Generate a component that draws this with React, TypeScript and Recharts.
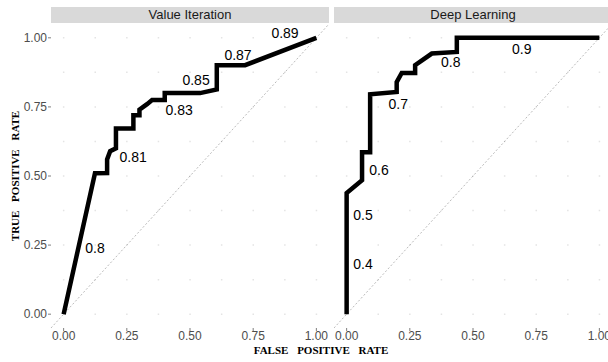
import {
  ComposedChart,
  Line,
  Scatter,
  XAxis,
  YAxis,
  CartesianGrid,
  ReferenceLine,
} from "recharts";

// ROC curve, value iteration
const viFpr = [0, 0.124, 0.172, 0.172, 0.184, 0.207, 0.207, 0.276, 0.276, 0.3, 0.3, 0.33, 0.35, 0.4, 0.4, 0.54, 0.606, 0.606, 0.718, 1];
const viTpr = [0, 0.51, 0.511, 0.56, 0.59, 0.6, 0.672, 0.672, 0.72, 0.72, 0.74, 0.76, 0.775, 0.775, 0.8, 0.8, 0.813, 0.901, 0.901, 1];

// ROC curve, deep learning
const dlFpr = [0, 0, 0.061, 0.061, 0.093, 0.093, 0.198, 0.198, 0.218, 0.271, 0.271, 0.337, 0.436, 0.436, 1];
const dlTpr = [0, 0.438, 0.485, 0.586, 0.586, 0.796, 0.804, 0.84, 0.873, 0.873, 0.901, 0.943, 0.949, 1, 1];

// threshold labels
const viLabels = ["0.8", "0.81", "0.83", "0.85", "0.87", "0.89"];
const viLabelFpr = [0.124, 0.275, 0.457, 0.524, 0.69, 0.876];
const viLabelTpr = [0.239, 0.568, 0.738, 0.847, 0.937, 1.017];

const dlLabels = ["0.4", "0.5", "0.6", "0.7", "0.8", "0.9"];
const dlLabelFpr = [0.065, 0.065, 0.128, 0.204, 0.412, 0.693];
const dlLabelTpr = [0.183, 0.359, 0.521, 0.762, 0.913, 0.961];

const ticks = [0, 0.25, 0.5, 0.75, 1];
const gridVals = [0, 0.125, 0.25, 0.375, 0.5, 0.625, 0.75, 0.875, 1];

const sans = "'Liberation Sans', Arial, Helvetica, sans-serif";

const toPts = (xs: number[], ys: number[]) => xs.map((x, i) => ({ fpr: x, tpr: ys[i] }));
const toLabels = (txt: string[], xs: number[], ys: number[]) =>
  txt.map((t, i) => ({ fpr: xs[i], tpr: ys[i], label: t }));

const LabelShape = (p: any) => (
  <text
    x={p.cx}
    y={p.cy}
    textAnchor="middle"
    dominantBaseline="central"
    fontSize={14}
    fontFamily={sans}
    fill="#000"
  >
    {p.payload.label}
  </text>
);

function Panel({
  pts,
  labels,
  showY,
  width,
}: {
  pts: { fpr: number; tpr: number }[];
  labels: { fpr: number; tpr: number; label: string }[];
  showY: boolean;
  width: number;
}) {
  const tickStyle = { fontSize: 12, fill: "#4d4d4d", fontFamily: sans };
  return (
    <ComposedChart
      width={width}
      height={362}
      margin={{ top: 24, right: 0, bottom: 14, left: 0 }}
    >
      <CartesianGrid
        horizontalValues={gridVals}
        vertical={false}
        stroke="#e4e4e4"
        strokeWidth={1.5}
        strokeDasharray="1.5 30.1"
        strokeDashoffset={19.7}
      />
      <XAxis
        dataKey="fpr"
        type="number"
        domain={[-0.05, 1.05]}
        ticks={ticks}
        interval={0}
        tickFormatter={(v: number) => v.toFixed(2)}
        axisLine={false}
        tickLine={{ stroke: "#7f7f7f" }}
        tickSize={3}
        tickMargin={0}
        height={20}
        tick={tickStyle}
      />
      <YAxis
        dataKey="tpr"
        type="number"
        domain={[-0.05, 1.05]}
        ticks={ticks}
        interval={0}
        tickFormatter={(v: number) => v.toFixed(2)}
        axisLine={false}
        tickLine={{ stroke: "#7f7f7f" }}
        tickSize={3}
        tickMargin={1}
        width={51}
        hide={!showY}
        tick={tickStyle}
      />
      <ReferenceLine
        segment={[
          { x: -0.05, y: -0.05 },
          { x: 1.05, y: 1.05 },
        ]}
        stroke="#8c8c8c"
        strokeWidth={0.6}
        strokeDasharray="2 2"
      />
      <Line
        data={pts}
        dataKey="tpr"
        type="linear"
        stroke="#000"
        strokeWidth={4.5}
        dot={false}
        isAnimationActive={false}
      />
      <Scatter
        data={labels}
        dataKey="tpr"
        shape={LabelShape}
        isAnimationActive={false}
      />
    </ComposedChart>
  );
}

const stripStyle = {
  position: "absolute" as const,
  top: 7,
  height: 16,
  background: "#d9d9d9",
  color: "#1a1a1a",
  fontSize: 13,
  fontFamily: sans,
  textAlign: "center" as const,
  lineHeight: "16px",
};

export default function App() {
  return (
    <div
      style={{
        position: "fixed",
        left: 0,
        top: 0,
        width: 608,
        height: 362,
        overflow: "hidden",
        background: "#fff",
      }}
    >
      <div style={{ position: "absolute", left: 0, top: 0 }}>
        <Panel pts={toPts(viFpr, viTpr)} labels={toLabels(viLabels, viLabelFpr, viLabelTpr)} showY width={329} />
      </div>
      <div style={{ position: "absolute", left: 334, top: 0 }}>
        <Panel pts={toPts(dlFpr, dlTpr)} labels={toLabels(dlLabels, dlLabelFpr, dlLabelTpr)} showY={false} width={278} />
      </div>

      <div style={{ ...stripStyle, left: 51, width: 278 }}>Value Iteration</div>
      <div style={{ ...stripStyle, left: 334, width: 278 }}>Deep Learning</div>

      <div
        style={{
          position: "absolute",
          left: 15,
          top: 176,
          transform: "translate(-50%, -50%) rotate(-90deg)",
          whiteSpace: "nowrap",
          fontFamily: "'Liberation Serif', 'Times New Roman', serif",
          fontWeight: "bold",
          fontSize: 11,
          wordSpacing: 6,
          color: "#000",
        }}
      >
        TRUE POSITIVE RATE
      </div>
      <div
        style={{
          position: "absolute",
          left: 321,
          top: 350,
          transform: "translate(-50%, -50%)",
          whiteSpace: "nowrap",
          fontFamily: "'Liberation Serif', 'Times New Roman', serif",
          fontWeight: "bold",
          fontSize: 11,
          wordSpacing: 6,
          color: "#000",
        }}
      >
        FALSE POSITIVE RATE
      </div>
    </div>
  );
}
